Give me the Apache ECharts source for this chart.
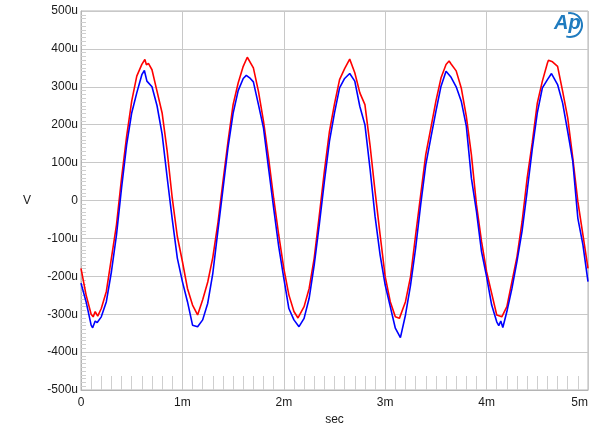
<!DOCTYPE html>
<html>
<head>
<meta charset="utf-8">
<script src="https://cdn.jsdelivr.net/npm/echarts@6/dist/echarts.min.js"></script>
<style>
  html, body { margin: 0; padding: 0; background: #fff; }
  #chart { width: 600px; height: 436px; }
</style>
</head>
<body>
<div id="chart"></div>
<script>
// time in ms, voltage in uV
let redTime = [0.00, 0.05, 0.10, 0.12, 0.14, 0.165, 0.20, 0.25, 0.30, 0.35, 0.40, 0.45, 0.50, 0.55, 0.60, 0.63, 0.645, 0.665, 0.70, 0.75, 0.80, 0.85, 0.90, 0.95,
  1.00, 1.05, 1.10, 1.15, 1.20, 1.25, 1.30, 1.35, 1.40, 1.45, 1.50, 1.55, 1.60, 1.64, 1.70, 1.75, 1.80, 1.85, 1.90, 1.95,
  2.00, 2.05, 2.10, 2.14, 2.20, 2.25, 2.30, 2.35, 2.40, 2.45, 2.50, 2.55, 2.60, 2.65, 2.70, 2.75, 2.80, 2.85, 2.90, 2.95,
  3.00, 3.05, 3.10, 3.14, 3.20, 3.25, 3.30, 3.35, 3.40, 3.45, 3.50, 3.55, 3.60, 3.63, 3.65, 3.70, 3.75, 3.80, 3.85, 3.90, 3.95,
  4.00, 4.05, 4.10, 4.15, 4.20, 4.25, 4.30, 4.35, 4.40, 4.45, 4.50, 4.55, 4.60, 4.61, 4.65, 4.70, 4.75, 4.80, 4.85, 4.90, 4.95, 5.00];
let redVolt = [-179, -249, -300, -307, -293, -305, -285, -240, -152, -64, 59, 169, 262, 328, 359, 372, 358, 362, 345, 288, 231, 130, 6, -95,
  -161, -232, -276, -302, -262, -215, -150, -60, 50, 156, 253, 310, 354, 378, 350, 288, 209, 112, 6, -91,
  -179, -249, -293, -310, -280, -232, -152, -40, 77, 182, 255, 319, 348, 373, 337, 284, 253, 147, 24, -91,
  -201, -267, -307, -311, -267, -201, -91, 15, 121, 191, 262, 323, 359, 368, 360, 342, 297, 222, 121, -11, -108,
  -188, -245, -302, -307, -280, -214, -148, -56, 59, 152, 257, 315, 363, 370, 366, 354, 288, 218, 112, -3, -91, -179];

let blueTime = [0.00, 0.05, 0.10, 0.115, 0.14, 0.16, 0.20, 0.25, 0.30, 0.35, 0.40, 0.45, 0.50, 0.55, 0.60, 0.625, 0.65, 0.70, 0.75, 0.80, 0.85, 0.90, 0.95,
  1.00, 1.05, 1.10, 1.15, 1.20, 1.25, 1.30, 1.35, 1.40, 1.45, 1.50, 1.55, 1.60, 1.63, 1.67, 1.70, 1.75, 1.80, 1.85, 1.90, 1.95,
  2.00, 2.05, 2.10, 2.15, 2.20, 2.25, 2.30, 2.35, 2.40, 2.45, 2.50, 2.55, 2.60, 2.65, 2.70, 2.75, 2.80, 2.85, 2.90, 2.95,
  3.00, 3.05, 3.10, 3.15, 3.20, 3.25, 3.30, 3.35, 3.40, 3.45, 3.50, 3.55, 3.60, 3.65, 3.70, 3.75, 3.80, 3.85, 3.90, 3.95,
  4.00, 4.05, 4.10, 4.12, 4.14, 4.16, 4.20, 4.25, 4.30, 4.35, 4.40, 4.45, 4.50, 4.55, 4.60, 4.64, 4.70, 4.75, 4.80, 4.85, 4.90, 4.95, 5.00];
let blueVolt = [-218, -267, -329, -336, -318, -322, -307, -267, -188, -91, 33, 147, 231, 284, 332, 343, 315, 300, 250, 175, 60, -50, -152,
  -214, -267, -329, -333, -315, -271, -192, -80, 30, 140, 230, 290, 322, 330, 322, 313, 253, 191, 85, -20, -122,
  -205, -285, -315, -333, -311, -258, -170, -64, 50, 156, 231, 297, 322, 335, 315, 248, 200, 85, -42, -144,
  -223, -280, -337, -362, -302, -223, -126, -11, 94, 165, 235, 301, 341, 325, 300, 262, 196, 59, -29, -135,
  -201, -276, -320, -330, -318, -335, -293, -232, -160, -80, 25, 135, 231, 297, 319, 335, 306, 257, 182, 103, -47, -117, -214];

let yTicks = [-500, 500, 100];
let xTicks = [0, 5, 1];

function pairs(t, v) {
  let out = [];
  t.forEach((x, i) => {
    out.push([x, v[i]]);
  });
  return out;
}

let chart = echarts.init(document.getElementById('chart'), null, { renderer: 'canvas' });

let labelFont = {
  fontFamily: 'Liberation Sans',
  fontSize: 12,
  color: '#1a1a1a'
};

let option = {
  backgroundColor: '#ffffff',
  animation: false,
  grid: {
    left: 81,
    right: 12,
    top: 11,
    bottom: 46,
    show: true,
    borderColor: '#b4b4b4',
    borderWidth: 1
  },
  xAxis: {
    type: 'value',
    min: xTicks[0],
    max: xTicks[1],
    interval: xTicks[2],
    name: 'sec',
    nameLocation: 'middle',
    nameGap: 24,
    nameTextStyle: labelFont,
    axisLine: { show: true, onZero: false, lineStyle: { color: '#b4b4b4' } },
    axisTick: { show: false, inside: true },
    minorTick: { show: true, splitNumber: 10, length: 14, lineStyle: { color: '#cfcfcf' } },
    axisLabel: Object.assign({
      margin: 7,
      alignMaxLabel: 'right',
      formatter: v => v === 0 ? '0' : v + 'm'
    }, labelFont),
    splitLine: { show: true, lineStyle: { color: '#c8c8c8', width: 1 } }
  },
  yAxis: {
    type: 'value',
    min: yTicks[0],
    max: yTicks[1],
    interval: yTicks[2],
    name: 'V',
    nameLocation: 'middle',
    nameGap: 50,
    nameRotate: 0,
    nameTextStyle: labelFont,
    axisLine: { show: true, onZero: false, lineStyle: { color: '#b4b4b4' } },
    axisTick: { show: false, inside: true },
    minorTick: { show: true, splitNumber: 10, length: 5, lineStyle: { color: '#cfcfcf' } },
    axisLabel: Object.assign({
      margin: 3,
      formatter: v => v === 0 ? '0' : v + 'u'
    }, labelFont),
    splitLine: { show: true, lineStyle: { color: '#c8c8c8', width: 1 } }
  },
  series: [
    {
      type: 'line',
      data: pairs(redTime, redVolt),
      showSymbol: false,
      smooth: false,
      lineStyle: { color: '#ff0000', width: 1.6 },
      z: 3
    },
    {
      type: 'line',
      data: pairs(blueTime, blueVolt),
      showSymbol: false,
      smooth: false,
      lineStyle: { color: '#0000ff', width: 1.6 },
      z: 4
    }
  ],
  graphic: [
    {
      type: 'text',
      left: 554,
      top: 13,
      style: {
        text: 'Ap',
        fontFamily: 'Liberation Sans',
        fontSize: 20,
        fontStyle: 'italic',
        fontWeight: 'bold',
        fill: '#1f7bbf'
      }
    },
    {
      type: 'arc',
      shape: { cx: 570, cy: 25, r: 12, startAngle: -Math.PI * 0.55, endAngle: Math.PI * 0.6 },
      style: { stroke: '#1f7bbf', lineWidth: 2, fill: null }
    }
  ]
};

chart.setOption(option);
</script>
</body>
</html>
